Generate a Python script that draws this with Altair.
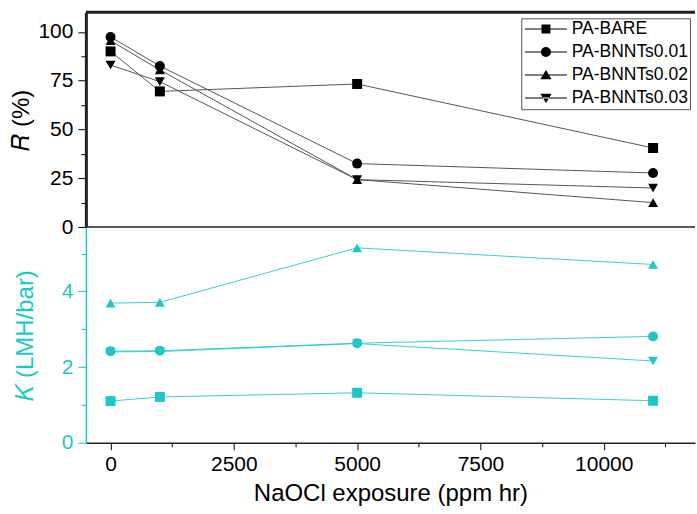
import altair as alt
import pandas as pd

exposure = [0, 1000, 5000, 11000]
series = ["PA-BARE", "PA-BNNTs0.01", "PA-BNNTs0.02", "PA-BNNTs0.03"]

R_bare = [90.0, 69.5, 73.3, 40.5]
R_001 = [97.4, 82.5, 32.5, 27.7]
R_002 = [95.5, 80.5, 24.3, 12.5]
R_003 = [83.0, 74.5, 24.3, 20.0]

K_bare = [1.10, 1.21, 1.32, 1.11]
K_001 = [2.42, 2.43, 2.63, 2.81]
K_002 = [3.69, 3.71, 5.15, 4.71]
K_003 = [2.40, 2.41, 2.62, 2.16]

x_major = [0, 2500, 5000, 7500, 10000]
x_minor = [1250, 3750, 6250, 8750, 11250]
r_major = [0, 25, 50, 75, 100]
r_minor = [12.5, 37.5, 62.5, 87.5]
k_major = [0, 2, 4]
k_minor = [1, 3, 5]

rows = []
for s, rv, kv in zip(series, [R_bare, R_001, R_002, R_003], [K_bare, K_001, K_002, K_003]):
    for x, r, k in zip(exposure, rv, kv):
        rows.append({"series": s, "x": x, "R": r, "K": k})
df = pd.DataFrame(rows)

W, H1, H2 = 610, 215, 216
CYAN = "#1ec8c8"
FONT = "Liberation Sans"
AXC = "#222222"

xscale = alt.Scale(domain=[-500, 11850], nice=False, zero=False)
rscale = alt.Scale(domain=[0, 110], nice=False)
kscale = alt.Scale(domain=[0, 5.7], nice=False)
shapes = ["square", "circle", "triangle-up", "triangle-down"]
# legend glyphs: a thin line with the marker on it (unit = 7 px)
LINE = "M-1,-0.07H5V0.07H-1Z"
leg_paths = [
    LINE + "M1.36,-0.64H2.64V0.64H1.36Z",
    LINE + "M2.71,0A0.71,0.71,0,1,1,1.29,0A0.71,0.71,0,1,1,2.71,0Z",
    LINE + "M2,-0.72L2.8,0.62L1.2,0.62Z",
    LINE + "M2,0.72L2.8,-0.62L1.2,-0.62Z",
]

base = alt.Chart(df)
one = alt.Chart(pd.DataFrame({"a": [0]}))

top_border = one.mark_rule(color=AXC, strokeWidth=3).encode(
    x=alt.value(0), x2=alt.value(W), y=alt.value(0)
)

r_lines = base.mark_line(color="#555555", strokeWidth=1).encode(
    x=alt.X("x:Q", scale=xscale,
            axis=alt.Axis(title=None, labels=False, ticks=False, domain=False, grid=False)),
    y=alt.Y("R:Q", scale=rscale,
            axis=alt.Axis(orient="left", values=r_major, title="𝑅 (%)", titleX=-64,
                          titleBaseline="middle", titleFontSize=24, titleColor="black",
                          titleFontWeight="normal", labelFontSize=21, labelColor="black",
                          labelPadding=5, tickSize=8, tickColor="black", domainColor=AXC,
                          domainWidth=3, grid=False, zindex=3)),
    detail="series:N",
)

r_pts = base.mark_point(filled=True, color="black", opacity=1, size=100).encode(
    x=alt.X("x:Q", scale=xscale, axis=None),
    y=alt.Y("R:Q", scale=rscale, axis=None),
    shape=alt.Shape("series:N", scale=alt.Scale(domain=series, range=shapes), legend=None),
)

r_minor_layer = alt.Chart(pd.DataFrame({"m": r_minor})).mark_point(opacity=0).encode(
    y=alt.Y("m:Q", scale=rscale,
            axis=alt.Axis(orient="left", values=r_minor, labels=False, domain=False,
                          tickSize=5, tickColor="black", title=None, grid=False))
)

legend_layer = base.transform_filter("false").mark_point(
    filled=True, color="black", opacity=1
).encode(
    shape=alt.Shape("series:N", scale=alt.Scale(domain=series, range=leg_paths),
                    legend=alt.Legend(title=None, orient="none", legendX=436, legendY=6,
                                      strokeColor="#555555", fillColor="white", padding=2,
                                      labelFont=FONT, labelFontSize=17.5, labelColor="black",
                                      labelLimit=300, symbolSize=196, symbolStrokeWidth=0,
                                      symbolFillColor="black", symbolOpacity=1,
                                      labelOffset=31, rowPadding=4, zindex=3)),
)

top = alt.layer(top_border, r_lines, r_pts, r_minor_layer, legend_layer).resolve_scale(
    shape="independent"
).resolve_axis(y="independent").properties(width=W, height=H1)

mid_line = one.mark_rule(color=AXC, strokeWidth=1.5).encode(
    x=alt.value(0), x2=alt.value(W), y=alt.value(0)
)

k_lines = base.mark_line(color=CYAN, strokeWidth=1, opacity=0.85).encode(
    x=alt.X("x:Q", scale=xscale,
            axis=alt.Axis(orient="bottom", values=x_major, format="d",
                          title="NaOCl exposure (ppm hr)",
                          titleFontSize=24, titleColor="black", titleFontWeight="normal",
                          titlePadding=7, labelFontSize=21, labelColor="black", labelPadding=4,
                          tickSize=7, tickColor="black", domainColor=AXC, domainWidth=1.5,
                          grid=False, zindex=3)),
    y=alt.Y("K:Q", scale=kscale,
            axis=alt.Axis(orient="left", values=k_major, title="𝐾 (LMH/bar)", titleX=-60,
                          titleBaseline="middle", titleFontSize=24, titleColor=CYAN,
                          titleFontWeight="normal", labelFontSize=21, labelColor=CYAN,
                          labelPadding=5, tickSize=8, tickColor=CYAN, domainColor=CYAN,
                          domainWidth=1.5, grid=False, zindex=3)),
    detail="series:N",
)

k_pts = base.mark_point(filled=True, color=CYAN, opacity=1, size=100).encode(
    x=alt.X("x:Q", scale=xscale, axis=None),
    y=alt.Y("K:Q", scale=kscale, axis=None),
    shape=alt.Shape("series:N", scale=alt.Scale(domain=series, range=shapes), legend=None),
)

k_minor_layer = alt.Chart(pd.DataFrame({"m": k_minor})).mark_point(opacity=0).encode(
    y=alt.Y("m:Q", scale=kscale,
            axis=alt.Axis(orient="left", values=k_minor, labels=False, domain=False,
                          tickSize=5, tickColor=CYAN, title=None, grid=False))
)

x_minor_layer = alt.Chart(pd.DataFrame({"m": x_minor})).mark_point(opacity=0).encode(
    x=alt.X("m:Q", scale=xscale,
            axis=alt.Axis(orient="bottom", values=x_minor, labels=False, domain=False,
                          tickSize=4, tickColor="black", title=None, grid=False))
)

bottom = alt.layer(mid_line, k_lines, k_pts, k_minor_layer, x_minor_layer).resolve_axis(
    x="independent", y="independent"
).properties(width=W, height=H2)

chart = alt.vconcat(top, bottom, spacing=0, bounds="flush").properties(
    padding={"left": 10, "top": 10, "right": 0, "bottom": 0}
).configure_view(stroke="transparent", strokeWidth=0).configure_axis(
    labelFont=FONT, titleFont=FONT
).configure_legend(labelFont=FONT)

chart.save("out.html", embed_options={"renderer": "svg", "actions": False})
